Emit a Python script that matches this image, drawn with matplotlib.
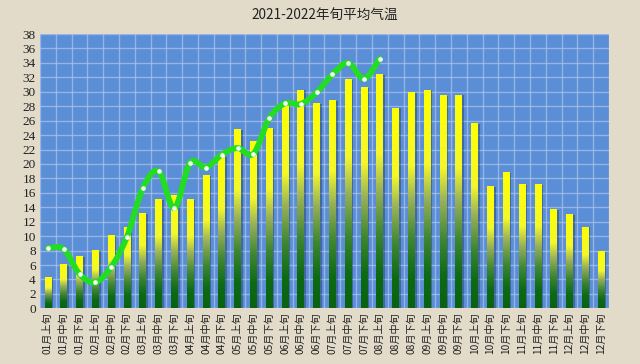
import numpy as np
import matplotlib.pyplot as plt
from matplotlib.colors import LinearSegmentedColormap
from matplotlib.path import Path
from matplotlib.patches import PathPatch

plt.rcParams["font.family"] = ["Noto Sans CJK SC", "DejaVu Sans"]

months = ["01", "02", "03", "04", "05", "06", "07", "08", "09", "10", "11", "12"]
parts = ["上旬", "中旬", "下旬"]
labels = [f"{m}月{p}" for m in months for p in parts]

# 2021 dekad mean temperature (bars)
temp_2021 = [4.2, 6.0, 7.1, 7.9, 10.0, 11.1, 13.1, 15.0, 15.6, 15.0, 18.4, 21.0,
             24.7, 23.1, 24.9, 28.2, 30.2, 28.3, 28.7, 31.6, 30.5, 32.3, 27.7, 29.8,
             30.2, 29.4, 29.5, 25.6, 16.8, 18.8, 17.1, 17.1, 13.6, 12.9, 11.2, 7.8]
# 2022 dekad mean temperature (line)
temp_2022 = [8.35, 8.2, 4.75, 3.6, 5.7, 9.9, 16.6, 19.0, 13.9, 20.2, 19.5, 21.3,
             22.2, 21.4, 26.3, 28.4, 28.3, 29.9, 32.4, 34.0, 31.8, 34.6]

bg = "#E2DBCA"
fig = plt.figure(figsize=(6.4, 3.64), dpi=100, facecolor=bg)
ax = fig.add_axes([0.0625, 0.153, 0.889, 0.7535])
ax.set_facecolor("#5A8ED6")

x = np.arange(len(labels))
bar_w = 0.42

# grid
ax.set_yticks(np.arange(0, 39, 2))
ax.set_xticks(x)
ax.set_xticks(np.arange(-0.5, len(labels), 1), minor=True)
ax.grid(axis="y", which="major", color="#A9C3EA", lw=1, alpha=0.75)
ax.grid(axis="x", which="minor", color="#A9C3EA", lw=1, alpha=0.75)
ax.set_axisbelow(True)

# bar shadows
ax.bar(x + 0.12, temp_2021, width=bar_w, color="#1E3150", alpha=0.4, zorder=2)

# gradient bars
cmap = LinearSegmentedColormap.from_list(
    "bar", [(0.0, "#0A6210"), (0.15, "#0E6A14"), (0.32, "#3F8632"),
            (0.5, "#97B058"), (0.66, "#F4F82A"), (1.0, "#FFFF00")])
grad = np.linspace(0, 1, 256).reshape(-1, 1)
for xi, v in zip(x, temp_2021):
    ax.imshow(grad, cmap=cmap, origin="lower", aspect="auto",
              extent=(xi - bar_w / 2, xi + bar_w / 2, 0, v), zorder=3)
ax.set_xlim(-0.5, len(labels) - 0.5)
ax.set_ylim(0, 38)

# smoothed 2022 line (bezier through the points, like Excel smoothing)
px = np.arange(len(temp_2022), dtype=float)
py = np.array(temp_2022)
pts = np.column_stack([px, py])
verts = [pts[0]]
codes = [Path.MOVETO]
for i in range(len(pts) - 1):
    p0 = pts[i - 1] if i > 0 else pts[i]
    p1, p2 = pts[i], pts[i + 1]
    p3 = pts[i + 2] if i + 2 < len(pts) else pts[i + 1]
    verts += [p1 + (p2 - p0) / 6, p2 - (p3 - p1) / 6, p2]
    codes += [Path.CURVE4] * 3
ax.add_patch(PathPatch(Path(verts, codes), fill=False, edgecolor="#22DD22",
                       lw=4.2, capstyle="round", joinstyle="round", zorder=5))
ax.plot(px, py, ls="none", marker="o", ms=2.8, mfc="white", mec="#E8FFE8",
        mew=0.5, zorder=6)

for s in ax.spines.values():
    s.set_visible(False)
ax.tick_params(which="both", length=0)
ax.set_yticklabels([str(v) for v in range(0, 39, 2)], family="Liberation Serif",
                   fontsize=9.5, color="#222222")
ax.set_xticklabels(labels, rotation=90, fontsize=7.3, color="#222222", va="top")
ax.tick_params(axis="x", pad=3)
ax.tick_params(axis="y", pad=3)

fig.suptitle("2021-2022年旬平均气温", x=0.507, y=0.975, fontsize=9.8, color="#222222")

fig.savefig("out.png", dpi=100, facecolor=bg)
